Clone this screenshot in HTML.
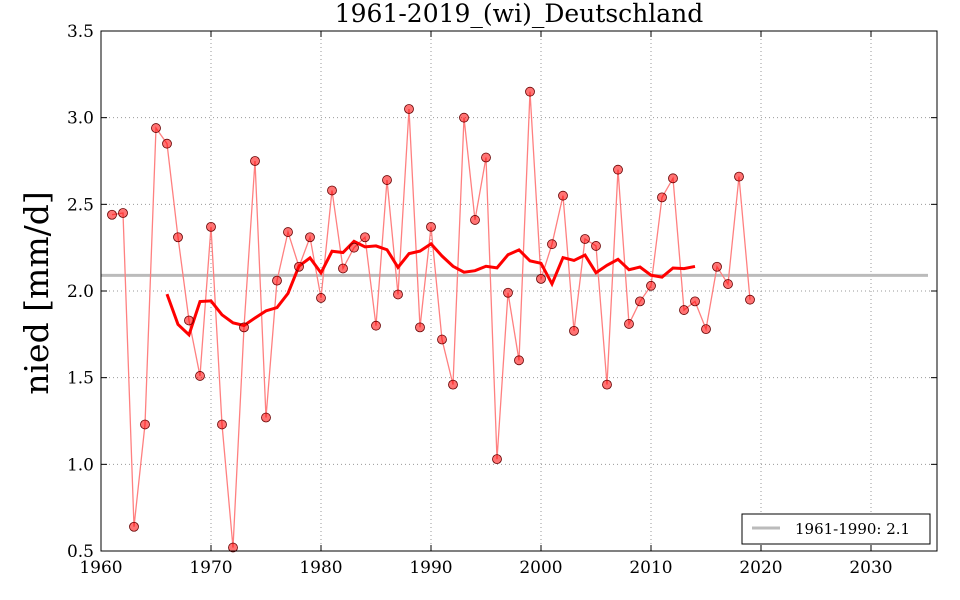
<!DOCTYPE html>
<html><head><meta charset="utf-8"><style>
html,body{margin:0;padding:0;background:#fff;}
svg{display:block;font-family:"DejaVu Serif","Liberation Serif",serif;}
</style></head><body>
<svg id="s" width="960" height="600" xmlns="http://www.w3.org/2000/svg"></svg>
<script>
const d=[2.44,2.45,0.64,1.23,2.94,2.85,2.31,1.83,1.51,2.37,1.23,0.52,1.79,2.75,1.27,2.06,2.34,2.14,2.31,1.96,2.58,2.13,2.25,2.31,1.80,2.64,1.98,3.05,1.79,2.37,1.72,1.46,3.00,2.41,2.77,1.03,1.99,1.60,3.15,2.07,2.27,2.55,1.77,2.30,2.26,1.46,2.70,1.81,1.94,2.03,2.54,2.65,1.89,1.94,1.78,2.14,2.04,2.66,1.95];
const X=y=>101+(y-1960)*11, Y=v=>31+(3.5-v)*520/3;
let h='<rect x="101" y="31" width="836" height="520" fill="#fff"/>';
for(let yr=1970;yr<=2030;yr+=10)h+=`<line x1="${X(yr)}" y1="31" x2="${X(yr)}" y2="551" stroke="#999" stroke-dasharray="1,3"/>`;
for(let v=1;v<=3.01;v+=0.5)h+=`<line x1="101" y1="${Y(v)}" x2="937" y2="${Y(v)}" stroke="#999" stroke-dasharray="1,3"/>`;
h+=`<line x1="101" y1="${Y(2.09)}" x2="928" y2="${Y(2.09)}" stroke="#bbb" stroke-width="3"/>`;
let p=d.map((v,i)=>`${X(1961+i)},${Y(v)}`).join(' ');
h+=`<polyline points="${p}" fill="none" stroke="#ff8080" stroke-width="1.3"/>`;
let m=[];for(let i=5;i<d.length-5;i++){let s=0;for(let k=-5;k<=5;k++)s+=d[i+k];m.push(`${X(1961+i)},${Y(s/11)}`);}
h+=`<polyline points="${m.join(' ')}" fill="none" stroke="#f00" stroke-width="3"/>`;
d.forEach((v,i)=>h+=`<circle cx="${X(1961+i)}" cy="${Y(v)}" r="4.5" fill="rgba(255,0,0,0.55)" stroke="#600" stroke-width="0.8"/>`);
h+='<rect x="101" y="31" width="836" height="520" fill="none" stroke="#000" stroke-width="1"/>';
for(let yr=1960;yr<=2030;yr+=10){h+=`<line x1="${X(yr)}" y1="551" x2="${X(yr)}" y2="545" stroke="#000"/><line x1="${X(yr)}" y1="31" x2="${X(yr)}" y2="37" stroke="#000"/><text x="${X(yr)}" y="573" font-size="17" text-anchor="middle">${yr}</text>`;}
for(let v=0.5;v<=3.51;v+=0.5){h+=`<line x1="101" y1="${Y(v)}" x2="107" y2="${Y(v)}" stroke="#000"/><line x1="937" y1="${Y(v)}" x2="931" y2="${Y(v)}" stroke="#000"/><text x="94" y="${Y(v)+6}" font-size="17" text-anchor="end">${v.toFixed(1)}</text>`;}
h+='<text x="519" y="22" font-size="25" text-anchor="middle">1961-2019_(wi)_Deutschland</text>';
h+='<text transform="translate(48,293) rotate(-90)" font-size="33" text-anchor="middle">nied [mm/d]</text>';
h+='<rect x="742" y="514" width="188" height="30" fill="#fff" stroke="#000"/><line x1="752" y1="528" x2="780" y2="528" stroke="#bbb" stroke-width="3"/><text x="795" y="534" font-size="15">1961-1990: 2.1</text>';
document.getElementById('s').innerHTML=h;
</script>
</body></html>
